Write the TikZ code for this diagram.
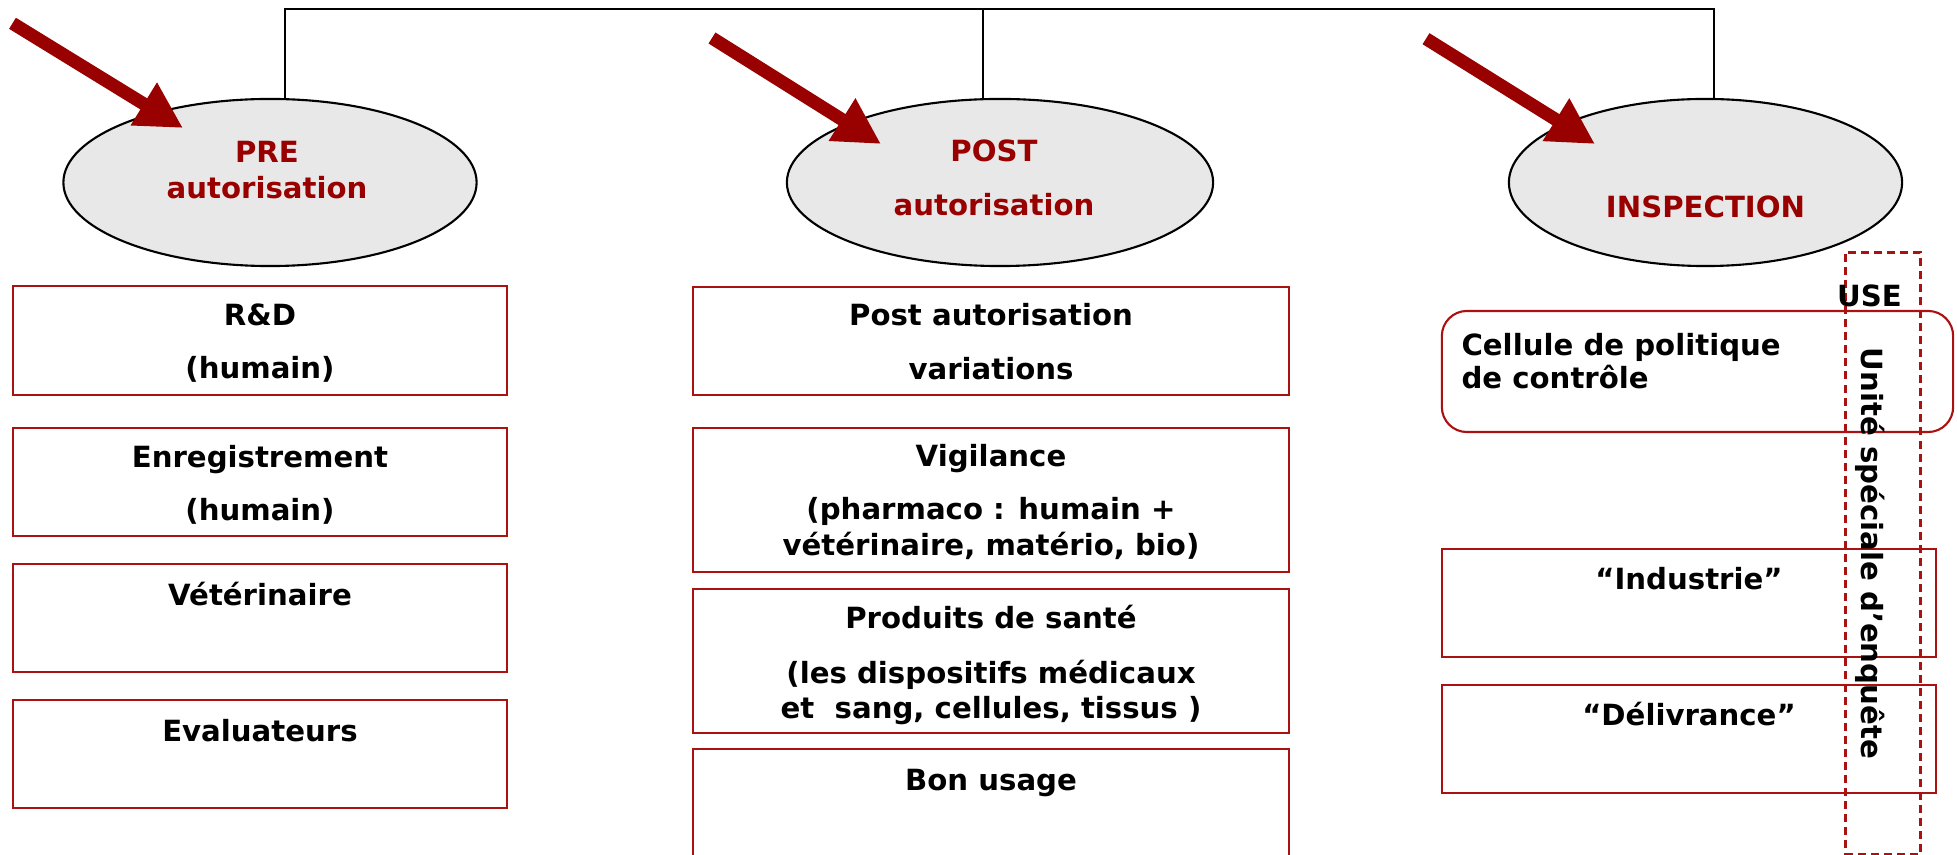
\documentclass[tikz,border=0pt]{standalone}
\usepackage{fontspec}
\setmainfont{DejaVu Sans}
\usetikzlibrary{shapes.geometric,arrows.meta,positioning}
\definecolor{rougeonce}{RGB}{153,0,0}
\definecolor{rougecadre}{RGB}{170,17,17}
\definecolor{grisovale}{RGB}{232,232,232}
\begin{document}
\begin{tikzpicture}[x=0.01cm,y=-0.01cm,
  every node/.style={font=\fontsize{8.3}{10}\selectfont\bfseries,inner sep=0pt},
  ovale/.style={draw,line width=0.6pt,fill=grisovale,ellipse,minimum height=1.67cm},
  cadre/.style={draw=rougecadre,line width=0.6pt},
  txt/.style={anchor=north,align=center,execute at begin node={\rule{0pt}{7pt}}},
  grosse/.style={rougeonce,line width=0.13cm,-{Triangle[length=0.46cm,width=0.47cm]}}]
  \clip (0,0) rectangle (1957,855);
  % les trois ovales et le bus du haut
  \node[ovale,minimum width=4.13cm] (pre) at (270,182.5) {};
  \node[ovale,minimum width=4.26cm] (post) at (1000,182.5) {};
  \node[ovale,minimum width=3.93cm] (insp) at (1705.5,182.5) {};
  \coordinate (bg) at (285,9); \coordinate (bm) at (983,9); \coordinate (bd) at (1714,9);
  \draw[line width=0.6pt] (pre.north -| bg) -- (bg) -- (bd) -- (insp.north -| bd);
  \draw[line width=0.6pt] (bm) -- (post.north -| bm);
  \node[txt,text=rougeonce] (pre-t) at ([xshift=-0.03cm,yshift=0.415cm]pre.center) {PRE\\autorisation};
  \node[txt,text=rougeonce] (post-t) at ([xshift=-0.06cm,yshift=0.43cm]post.center) {POST\\[5.4pt]autorisation};
  \node[txt,text=rougeonce] (insp-t) at ([yshift=-0.10cm]insp.center) {INSPECTION};
  % fleches
  \coordinate (f1) at (12.5,23.3); \coordinate (p1) at (183,128);
  \coordinate (f2) at (712,38);    \coordinate (p2) at (881,144);
  \coordinate (f3) at (1426,38.7); \coordinate (p3) at (1595,144);
  \foreach \i in {1,2,3} \draw[grosse] (f\i) -- (p\i);
  % colonne PRE
  \foreach \n/\y/\lab in {rd/340.5/{R\&D\\[5.1pt](humain)}, enr/482/{Enregistrement\\[5.1pt](humain)}, vet/618/{Vétérinaire}, eval/754/{Evaluateurs}} {
    \node[cadre,minimum width=4.94cm,minimum height=1.085cm] (\n) at (260,\y) {};
    \node[txt,below=0.18cm of \n.north] (\n-t) {\lab};
  }
  % colonne POST
  \foreach \n/\y/\h/\lab in {var/341/1.08/{Post autorisation\\[5.4pt]variations}, vig/500/1.44/{Vigilance\\[5.1pt](pharmaco : humain +\\vétérinaire, matério, bio)}, prod/661/1.44/{Produits de santé\\[5.6pt](les dispositifs médicaux\\et~ sang, cellules, tissus )}, bon/819/1.40/{Bon usage}} {
    \node[cadre,minimum width=5.96cm,minimum height=\h cm] (\n) at (991,\y) {};
    \node[txt,below=0.17cm of \n.north] (\n-t) {\lab};
  }
  % colonne INSPECTION
  \node[cadre,rounded corners=0.25cm,minimum width=5.11cm,minimum height=1.21cm] (cel) at (1697.5,371.5) {};
  \node[txt,anchor=north west,align=left,below right=0.23cm and 0.20cm of cel.north west] (cel-t) {Cellule de politique\\[-0.6pt]de contrôle};
  \foreach \n/\y/\lab in {ind/603/{“Industrie”}, del/739/{“Délivrance”}} {
    \node[cadre,minimum width=4.94cm,minimum height=1.08cm] (\n) at (1689,\y) {};
    \node[txt,below=0.16cm of \n.north] (\n-t) {\lab};
  }
  % USE
  \node[draw=rougecadre,dash pattern=on 0.08cm off 0.05cm,line width=0.8pt,minimum width=0.75cm,minimum height=6.02cm,anchor=north west] (use) at (1844,251) {};
  \node[txt,below=0.30cm of use.north,xshift=-0.135cm] (use-t) {USE};
  \node[anchor=west,rotate=-90] (use-v) at ([xshift=-0.125cm,yshift=-0.96cm]use.north) {Unité spéciale d’enquête};
\end{tikzpicture}
\end{document}
